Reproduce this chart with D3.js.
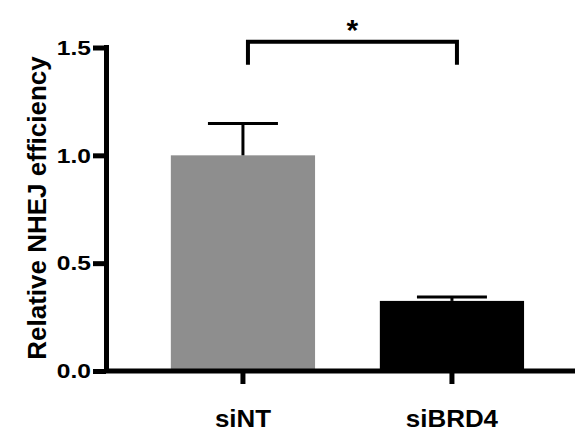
<html>
<head>
<title>NHEJ efficiency</title>
<script type="text/javascript" src="https://cdn.jsdelivr.net/npm/d3@7"></script>
<style type="text/css">
body { margin: 0; background: white; }
text { font-family: "Liberation Sans", Arial, sans-serif; font-weight: bold; }
</style>
</head>
<body>
<script>

  var categories = ["siNT", "siBRD4"];
  var means = [1.0, 0.325];
  var errors = [0.148, 0.018];
  var barColors = ["#8e8e8e", "#000000"];
  var yTicks = [0, 0.5, 1.0, 1.5];

  var width = 575,
  height = 433;

  var svg = d3.select("body").append("svg").attr("width", width).attr("height", height).style("background", "white");

  var x = d3.scaleBand()
    .domain(categories)
    .range([106, 575])
    .paddingInner(0.31)
    .paddingOuter(0.277)
    .align(0.56);

  var y = d3.scaleLinear()
    .domain([0, 1.5])
    .range([371, 47.5]);

  // bars
  svg.selectAll("rect.bar")
    .data(categories)
    .enter().append("rect")
    .attr("class", "bar")
    .attr("x", function(d){ return x(d); })
    .attr("width", x.bandwidth())
    .attr("y", function(d, i){ return y(means[i]); })
    .attr("height", function(d, i){ return y(0) - y(means[i]); })
    .attr("fill", function(d, i){ return barColors[i]; });

  // error bars (upper only)
  var capHalf = 35;
  categories.forEach(function(c, i){
    var cx = x(c) + x.bandwidth() / 2;
    svg.append("line")
      .attr("x1", cx).attr("x2", cx)
      .attr("y1", y(means[i])).attr("y2", y(means[i] + errors[i]))
      .attr("stroke", "black").attr("stroke-width", 3);
    svg.append("line")
      .attr("x1", cx - capHalf).attr("x2", cx + capHalf)
      .attr("y1", y(means[i] + errors[i])).attr("y2", y(means[i] + errors[i]))
      .attr("stroke", "black").attr("stroke-width", 3);
  });

  // y axis
  var yAxis = svg.append("g")
    .attr("transform", "translate(106,0)")
    .call(d3.axisLeft(y).tickValues(yTicks).tickFormat(d3.format(".1f")).tickSize(13).tickSizeOuter(0));
  yAxis.select(".domain").attr("d", "M0.5,371V45").attr("stroke-width", 5);
  yAxis.selectAll(".tick line").attr("stroke-width", 5);
  yAxis.selectAll(".tick text")
    .attr("x", 0)
    .attr("transform", "translate(-15,0) scale(1.17,1)")
    .attr("font-size", 21).attr("fill", "black");

  // x axis
  var xAxis = svg.append("g")
    .attr("transform", "translate(0,371)")
    .call(d3.axisBottom(x).tickSize(13).tickSizeOuter(0).tickPadding(43));
  xAxis.select(".domain").attr("d", "M104,0H575").attr("stroke-width", 5);
  xAxis.selectAll(".tick line").attr("stroke-width", 5);
  xAxis.selectAll(".tick text")
    .attr("transform", "scale(1.08,1)")
    .attr("dy", "0")
    .attr("font-size", 24).attr("fill", "black");

  // y title
  svg.append("text")
    .attr("transform", "translate(46,208) rotate(-90)")
    .attr("text-anchor", "middle")
    .attr("font-size", 26)
    .text("Relative NHEJ efficiency");

  // significance bracket
  var bx1 = x(categories[0]) + x.bandwidth() / 2 + 5,
      bx2 = x(categories[1]) + x.bandwidth() / 2 + 5;
  svg.append("path")
    .attr("d", "M" + bx1 + "," + y(1.42) + "V" + y(1.527) + "H" + bx2 + "V" + y(1.42))
    .attr("fill", "none")
    .attr("stroke", "black")
    .attr("stroke-width", 4);

  svg.append("text")
    .attr("x", (bx1 + bx2) / 2)
    .attr("y", 40)
    .attr("text-anchor", "middle")
    .attr("font-size", 30)
    .text("*");

</script>
</body>
</html>
